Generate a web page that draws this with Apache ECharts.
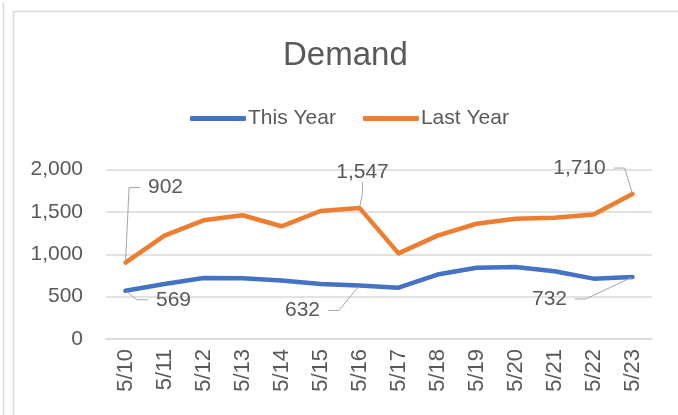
<!DOCTYPE html>
<html>
<head>
<meta charset="utf-8">
<script src="https://cdn.jsdelivr.net/npm/echarts@6/dist/echarts.min.js"></script>
<style>
html,body{margin:0;padding:0;background:#fff;}
#c{width:678px;height:415px;}
</style>
</head>
<body>
<div id="c"></div>
<script>
var categories = ['5/10','5/11','5/12','5/13','5/14','5/15','5/16','5/17','5/18','5/19','5/20','5/21','5/22','5/23'];
var thisYear = [569, 650, 720, 718, 690, 650, 632, 605, 760, 840, 850, 800, 712, 732];
var lastYear = [902, 1220, 1400, 1460, 1330, 1510, 1547, 1010, 1220, 1360, 1420, 1430, 1470, 1710];
var yTicks = [0, 500, 1000, 1500, 2000];
var labeledIdx = [0, 6, 13];

var FONT = 'Liberation Sans';
var TXT = '#595959';

function fmt(v){ return v.toLocaleString('en-US'); }

// label placement (style): [dx, dy, right spacer key]
var placeThis = {0: [48, 9, 'r'], 6: [-57, 25, 'r'], 13: [-83, 22, 'r']};
var placeLast = {0: [95, -75, 'R'], 6: [3, -36, 'r'], 13: [-53, -26, 'r']};

function mkData(arr){
  return arr.map(function(v, i){
    return labeledIdx.indexOf(i) >= 0 ? {value: v, label: {show: true}} : {value: v};
  });
}

function mkSeries(name, arr, color, place){
  return {
    name: name,
    type: 'line',
    data: mkData(arr),
    smooth: false,
    symbol: 'circle',
    symbolSize: 2,
    showSymbol: true,
    lineStyle: {color: color, width: 4.5, cap: 'round', join: 'round'},
    itemStyle: {color: color},
    label: {
      show: false,
      position: 'inside',
      formatter: function(p){
        var o = place[p.dataIndex];
        var rk = o ? o[2] : 'r';
        return '{l| }{t|' + fmt(p.value) + '}{' + rk + '| }';
      },
      fontFamily: FONT, fontSize: 21, color: TXT,
      rich: {
        t: {fontFamily: FONT, fontSize: 21, color: TXT},
        l: {fontFamily: FONT, fontSize: 21, width: 10},
        r: {fontFamily: FONT, fontSize: 21, width: 10},
        R: {fontFamily: FONT, fontSize: 21, width: 120}
      }
    },
    labelLine: {show: true, length2: 11, lineStyle: {color: '#A6A6A6', width: 1}},
    labelLayout: function(p){
      var o = place[p.dataIndex];
      if (!o) return {};
      return {dx: o[0], dy: o[1]};
    },
    emphasis: {disabled: true},
    animation: false
  };
}

var chart = echarts.init(document.getElementById('c'));
chart.setOption({
  animation: false,
  backgroundColor: '#fff',
  title: {
    text: 'Demand', left: 278, top: 34,
    textStyle: {fontFamily: FONT, fontSize: 33, fontWeight: 'normal', color: TXT}
  },
  legend: {
    top: 103, left: 185,
    itemWidth: 56, itemHeight: 5, itemGap: 27,
    icon: 'roundRect',
    textStyle: {fontFamily: FONT, fontSize: 21, color: TXT, padding: [0, 0, 0, -3]},
    data: ['This Year', 'Last Year']
  },
  graphic: [
    {type: 'rect', left: 11, top: 9, shape: {width: 700, height: 450}, style: {fill: 'none', stroke: '#D9D9D9', lineWidth: 1.5}},
    {type: 'line', left: 1, top: 0, shape: {x1: 0, y1: 0, x2: 0, y2: 415}, style: {stroke: '#D9D9D9', lineWidth: 1.5}}
  ],
  grid: {left: 106, right: 26, top: 169.5, bottom: 76, containLabel: false},
  xAxis: {
    type: 'category', data: categories, boundaryGap: true,
    axisLine: {show: true, lineStyle: {color: '#D9D9D9', width: 1.5}},
    axisTick: {show: false},
    axisLabel: {rotate: 90, margin: 10, fontFamily: FONT, fontSize: 22, color: TXT}
  },
  yAxis: {
    type: 'value', min: yTicks[0], max: yTicks[yTicks.length-1], interval: 500,
    axisLine: {show: false}, axisTick: {show: false},
    splitLine: {lineStyle: {color: '#D9D9D9', width: 1.5}},
    axisLabel: {margin: 23, fontFamily: FONT, fontSize: 21, color: TXT, formatter: function(v){ return fmt(v); }}
  },
  series: [
    mkSeries('This Year', thisYear, '#4472C4', placeThis),
    mkSeries('Last Year', lastYear, '#ED7D31', placeLast)
  ]
});
</script>
</body>
</html>
